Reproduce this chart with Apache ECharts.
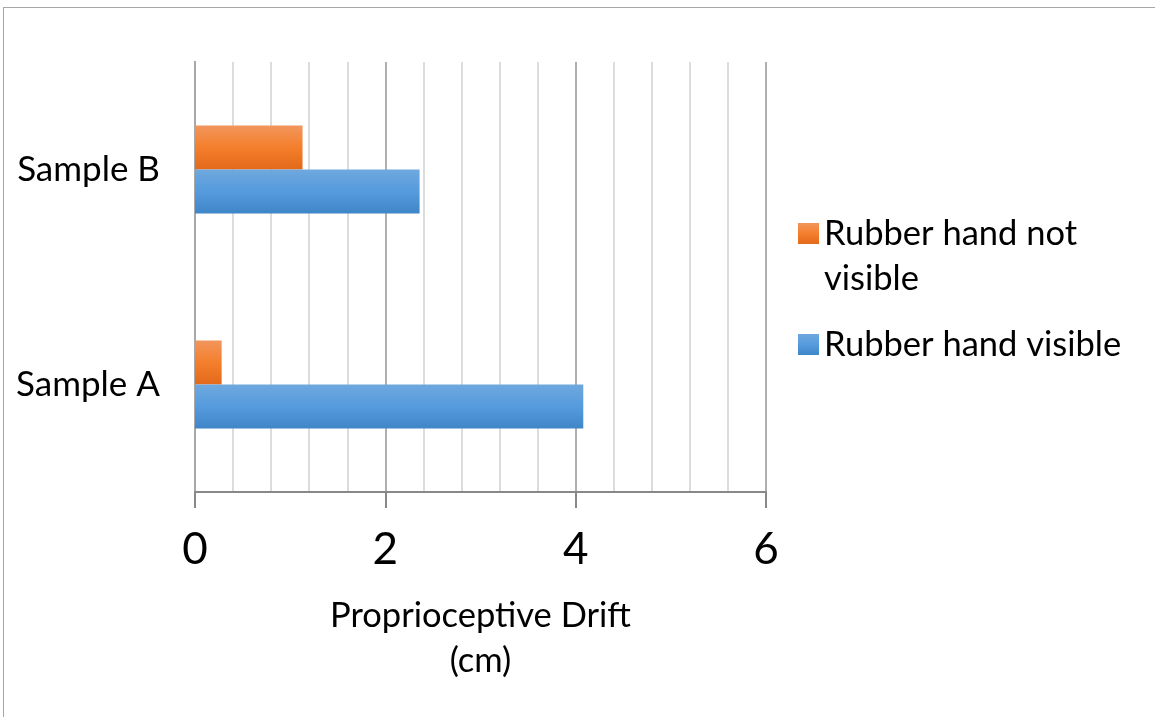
<!DOCTYPE html>
<html>
<head>
<meta charset="utf-8">
<script src="https://cdn.jsdelivr.net/npm/echarts@6/dist/echarts.min.js"></script>
<style>
html,body{margin:0;padding:0;background:#fff;}
#chart{position:absolute;left:0;top:0;width:1155px;height:717px;}
#frame{position:absolute;left:3px;top:7px;width:1200px;height:800px;border-top:1px solid #a6a6a6;border-left:1px solid #a6a6a6;pointer-events:none;}
</style>
</head>
<body>
<div id="chart"></div>
<div id="frame"></div>
<script>
const categories = ['Sample A', 'Sample B'];
const seriesNames = ['Rubber hand not visible', 'Rubber hand visible'];
const notVisible = [0.28, 1.13];
const visible = [4.08, 2.36];
const xMin = 0, xMax = 6, majorStep = 2, minorStep = 0.4;
const axisName = 'Proprioceptive Drift\n(cm)';

const FONT = 'Lato';
function grad(top, mid, bot) {
  return {type:'linear', x:0, y:0, x2:0, y2:1, colorStops:[
    {offset:0, color:top},{offset:0.5, color:mid},{offset:1, color:bot}]};
}
const orange = grad('#f2965c', '#f47f2c', '#e3691b');
const blue = grad('#6fa8de', '#559bdd', '#3f86c8');

const chart = echarts.init(document.getElementById('chart'), null, {renderer:'canvas'});
chart.setOption({
  animation: false,
  backgroundColor: '#fff',
  grid: {left:195, right:389, top:62, bottom:225, containLabel:false},
  legend: {
    orient: 'vertical',
    left: 793,
    top: 161,
    itemWidth: 21,
    itemHeight: 21,
    itemGap: 21,
    icon: 'rect',
    data: seriesNames,
    textStyle: {fontFamily: FONT, fontSize: 34.5, color: '#000', lineHeight: 45},
    formatter: function (n) {
      return n === seriesNames[0] ? '\nRubber hand not\nvisible' : n;
    }
  },
  xAxis: [{
    type: 'value', min: xMin, max: xMax, interval: majorStep,
    position: 'bottom',
    name: axisName, nameLocation: 'middle', nameGap: 101,
    nameTextStyle: {fontFamily: FONT, fontSize: 34.5, color: '#000', lineHeight: 45},
    axisLine: {show: true, lineStyle: {color: '#888', width: 2}},
    axisTick: {show: true, length: 16, lineStyle: {color: '#888', width: 2}},
    axisLabel: {fontFamily: FONT, fontSize: 44, color: '#000', margin: 36},
    splitLine: {show: true, lineStyle: {color: '#a0a0a0', width: 1.5}},
    z: 3
  }, {
    type: 'value', min: xMin, max: xMax, interval: minorStep,
    position: 'bottom',
    axisLine: {show: false}, axisTick: {show: false}, axisLabel: {show: false},
    splitLine: {show: true, lineStyle: {color: '#d0d0d0', width: 1.5}},
    z: 1
  }],
  yAxis: {
    type: 'category', data: categories,
    axisLine: {show: true, lineStyle: {color: '#888', width: 2}},
    axisTick: {show: false},
    axisLabel: {fontFamily: FONT, fontSize: 35, color: '#000', margin: 35},
    splitLine: {show: false}
  },
  series: [{
    name: seriesNames[0], type: 'bar', data: notVisible, xAxisIndex: 0,
    itemStyle: {color: orange}, barGap: '0%', barCategoryGap: '59%', z: 5
  }, {
    name: seriesNames[1], type: 'bar', data: visible, xAxisIndex: 0,
    itemStyle: {color: blue}, barGap: '0%', barCategoryGap: '59%', z: 5
  }]
});
</script>
</body>
</html>
